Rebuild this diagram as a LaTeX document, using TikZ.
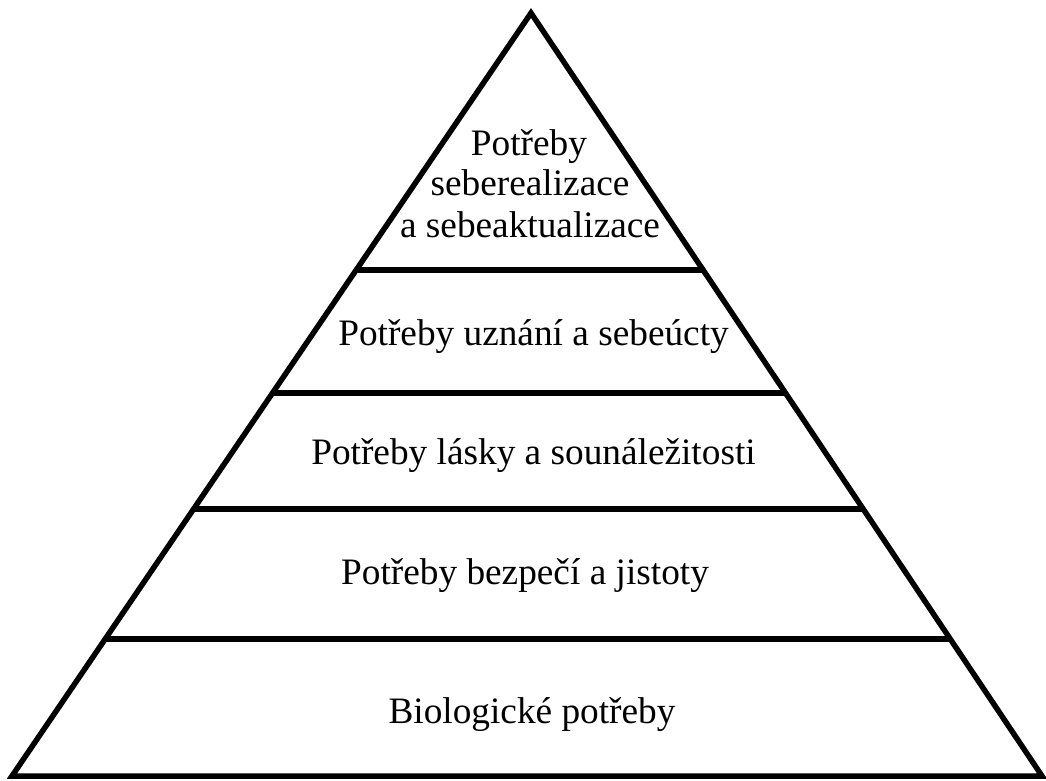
\documentclass[tikz,border=0pt]{standalone}
\usepackage{fontspec}
\setmainfont{Liberation Serif}
\usetikzlibrary{calc}
\begin{document}
\begin{tikzpicture}[x=1pt,y=-1pt,
  edge/.style={line width=5.5pt, line join=miter},
  lvl/.style={font=\fontsize{37.3}{37}\selectfont, inner sep=0pt, anchor=base}]
\useasboundingbox (0,0) rectangle (1046,780);
\coordinate (apex) at (531,13);
\coordinate (bl) at (12,776);
\coordinate (br) at (1042,776);
\foreach \y/\n in {270/a,393/b,509/c,639/d}{
  \coordinate (L\n) at ($(apex)!{(\y-13)/763}!(bl)$);
  \coordinate (R\n) at ($(apex)!{(\y-13)/763}!(br)$);
  \draw[line width=5.5pt] (L\n) -- (R\n);
}
\draw[edge] (apex) -- (bl) -- (br) -- cycle;
\node[lvl] (t1a) at (529,155) {Potřeby};
\node[lvl] (t1b) at (530,195) {seberealizace};
\node[lvl] (t1c) at (530,237) {a sebeaktualizace};
\node[lvl] (t2) at (533.5,345) {Potřeby uznání a sebeúcty};
\node[lvl] (t3) at (533.5,464) {Potřeby lásky a sounáležitosti};
\node[lvl] (t4) at (525,584) {Potřeby bezpečí a jistoty};
\node[lvl] (t5) at (532,723) {Biologické potřeby};
\end{tikzpicture}
\end{document}
